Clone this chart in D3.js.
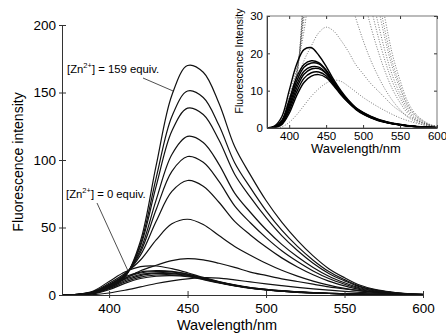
<!DOCTYPE html>
<html>
<head>
<meta charset="utf-8">
<script src="https://cdn.jsdelivr.net/npm/d3@7"></script>
<style>
  body { margin: 0; background: #fff; }
  svg { font-family: "Liberation Sans", Arial, sans-serif; }
  .axis text { fill: #000; }
  .axis path, .axis line { stroke: #333; }
</style>
</head>
<body>
<svg id="chart" width="446" height="334"></svg>
<script>
// wavelength grid (nm)
const wavelengths = [370, 380, 390, 400, 410, 420, 430, 440, 450, 460, 470, 480,
                     490, 500, 510, 520, 530, 540, 550, 560, 570, 580, 590, 600];

// low [Zn2+] spectra (solid in the inset), first one is 0 equiv.
const zn0   = [0, 0.5, 3, 10, 17, 21, 21.5, 19.5, 16.5, 13, 10, 7.5, 5.5, 4.2, 3.2, 2.4, 1.8, 1.3, 1, 0.7, 0.5, 0.3, 0.2, 0.1];
const lowA  = [0, 0.3, 2, 7.5, 13.5, 17, 18, 17.5, 15.5, 12.5, 9.7, 7.3, 5.4, 4.1, 3.1, 2.3, 1.7, 1.2, 0.9, 0.6, 0.4, 0.3, 0.2, 0.1];
const lowB  = [0, 0.3, 1.8, 6.8, 12.5, 16.3, 17.4, 17.2, 15.4, 12.4, 9.6, 7.2, 5.3, 4, 3, 2.2, 1.6, 1.2, 0.9, 0.6, 0.4, 0.3, 0.2, 0.1];
const lowC  = [0, 0.2, 1.5, 6, 11.5, 15.2, 16.4, 16.3, 14.8, 12.1, 9.4, 7.1, 5.2, 3.9, 2.9, 2.2, 1.6, 1.2, 0.9, 0.6, 0.4, 0.3, 0.2, 0.1];
const lowD  = [0, 0.2, 1.3, 5.3, 10.6, 14.4, 15.8, 15.9, 14.6, 12, 9.3, 7, 5.2, 3.9, 2.9, 2.1, 1.6, 1.1, 0.8, 0.6, 0.4, 0.3, 0.2, 0.1];
const lowE  = [0, 0.2, 1.1, 4.6, 9.6, 13.3, 14.8, 15, 14, 11.7, 9.1, 6.9, 5.1, 3.8, 2.8, 2.1, 1.5, 1.1, 0.8, 0.6, 0.4, 0.3, 0.2, 0.1];
const lowF  = [0, 0.1, 0.9, 3.9, 8.6, 12.2, 13.9, 14.3, 13.5, 11.4, 8.9, 6.8, 5, 3.7, 2.8, 2, 1.5, 1.1, 0.8, 0.6, 0.4, 0.3, 0.2, 0.1];

// higher [Zn2+] spectra (dotted in the inset), last one is 159 equiv.
const high13  = [0, 0, 0.3, 1.5, 3.5, 6, 8.5, 10.5, 12, 12.8, 12.5, 11.2, 9.7, 8.2, 6.9, 5.7, 4.6, 3.6, 2.7, 2, 1.4, 0.9, 0.5, 0.3];
const high27  = [0, 0.3, 2, 6, 12, 18, 22, 25.5, 27, 26, 23.5, 20.5, 17, 14.5, 12, 10, 8, 6, 4.5, 3.2, 2.2, 1.4, 0.8, 0.4];
const high56  = [0, 0.5, 2.6, 8.7, 16, 25.9, 40.8, 52.7, 56.1, 52.2, 44, 36, 29.5, 23.5, 18.3, 14, 10.3, 7.3, 4.9, 3, 1.8, 1, 0.5, 0.2];
const high85  = [0, 0.4, 2.3, 7.8, 15.2, 29.5, 54.6, 76.7, 84.8, 80.6, 68.7, 54.5, 44.5, 35.5, 27.5, 20.8, 15, 10.3, 6.8, 4, 2.3, 1.3, 0.6, 0.2];
const high103 = [0, 0.4, 2.2, 7.2, 14.8, 31.7, 63.3, 91.6, 102.6, 98.3, 84.1, 66, 53.5, 42.5, 32.8, 24.8, 17.8, 12.2, 8, 4.6, 2.6, 1.4, 0.7, 0.3];
const high118 = [0, 0.4, 2, 6.7, 14.4, 33.5, 70.5, 104.1, 117.5, 113, 96.8, 75.5, 61.3, 48.5, 37.5, 28.3, 20.4, 13.9, 9.1, 5.2, 2.9, 1.6, 0.8, 0.3];
const high139 = [0, 0.3, 1.8, 6, 13.8, 36.1, 80.6, 121.5, 138.4, 133.7, 114.8, 89.5, 72.5, 57.3, 44, 33, 23.6, 16, 10.5, 5.9, 3.4, 1.8, 0.8, 0.3];
const high152 = [0, 0.3, 1.7, 5.6, 13.5, 37.7, 86.8, 132.2, 151.1, 146.3, 125.7, 98, 79.5, 62.5, 48, 36, 25.8, 17.4, 11.4, 6.4, 3.6, 2, 0.9, 0.4];
const high159 = [0, 0.3, 1.5, 5, 13, 40, 96, 148, 170, 165, 142, 110, 89, 70, 54, 40.5, 29, 19.5, 12.8, 7.2, 4, 2.2, 1, 0.4];

const lowSeries  = [zn0, lowA, lowB, lowC, lowD, lowE, lowF];
const highSeries = [high13, high27, high56, high85, high103, high118, high139, high152, high159];

// tick values
const mainXTicks  = [400, 450, 500, 550, 600];
const mainYTicks  = [0, 50, 100, 150, 200];
const insetXTicks = [400, 450, 500, 550, 600];
const insetYTicks = [0, 10, 20, 30];

class SpectraChart {

    /**
     * @param {Object} _config  position, size and styling of this panel
     * @param {Array} _data     list of {values, stroke, width, dash}
     */
    constructor(_config, _data) {
        this.config = {
            svg: _config.svg,
            left: _config.left,
            top: _config.top,
            width: _config.width,
            height: _config.height,
            xDomain: _config.xDomain,
            yDomain: _config.yDomain,
            xTicks: _config.xTicks,
            yTicks: _config.yTicks,
            fontSize: _config.fontSize || 13,
            boxed: _config.boxed || false,
            id: _config.id
        };
        this.data = _data;
        this.initVis();
    }

    initVis() {
        let vis = this;
        const c = vis.config;

        vis.xScale = d3.scaleLinear().domain(c.xDomain).range([0, c.width]);
        vis.yScale = d3.scaleLinear().domain(c.yDomain).range([c.height, 0]);

        vis.chart = c.svg.append('g')
            .attr('transform', `translate(${c.left},${c.top})`);

        vis.chart.append('clipPath')
            .attr('id', 'clip-' + c.id)
          .append('rect')
            .attr('width', c.width)
            .attr('height', c.height);

        vis.renderVis();
    }

    renderVis() {
        let vis = this;
        const c = vis.config;

        const line = d3.line()
            .x((d, i) => vis.xScale(wavelengths[i]))
            .y(d => vis.yScale(d))
            .curve(d3.curveCatmullRom.alpha(0.5));

        vis.chart.append('g')
            .attr('clip-path', `url(#clip-${c.id})`)
          .selectAll('.spectrum')
            .data(vis.data)
          .join('path')
            .attr('class', 'spectrum')
            .attr('fill', 'none')
            .attr('stroke', d => d.stroke)
            .attr('stroke-width', d => d.width)
            .attr('stroke-dasharray', d => d.dash || null)
            .attr('d', d => line(d.values));

        // labelled axes
        const xAxis = d3.axisBottom(vis.xScale).tickValues(c.xTicks)
            .tickSizeInner(c.boxed ? -3 : 3).tickSizeOuter(0).tickPadding(c.boxed ? 4 : 5);
        const yAxis = d3.axisLeft(vis.yScale).tickValues(c.yTicks)
            .tickSizeInner(c.boxed ? -3 : 3).tickSizeOuter(0).tickPadding(c.boxed ? 4 : 3);

        const xg = vis.chart.append('g')
            .attr('class', 'axis')
            .attr('transform', `translate(0,${c.height})`)
            .call(xAxis);
        const yg = vis.chart.append('g')
            .attr('class', 'axis')
            .call(yAxis);

        [xg, yg].forEach(g => g.selectAll('text')
            .style('font-size', c.fontSize + 'px')
            .style('font-family', '"Liberation Sans", Arial, sans-serif'));

        if (c.boxed) {
            // box with inward ticks on top and right
            vis.chart.append('g')
                .attr('class', 'axis')
                .call(d3.axisTop(vis.xScale).tickValues(c.xTicks).tickSize(-3).tickFormat(''))
                .call(g => g.select('.domain').remove());
            vis.chart.append('g')
                .attr('class', 'axis')
                .attr('transform', `translate(${c.width},0)`)
                .call(d3.axisRight(vis.yScale).tickValues(c.yTicks).tickSize(-3).tickFormat(''))
                .call(g => g.select('.domain').remove());
            vis.chart.append('rect')
                .attr('width', c.width)
                .attr('height', c.height)
                .attr('fill', 'none')
                .attr('stroke', '#555')
                .attr('stroke-width', 0.8);
        } else {
            // short inward ticks too
            vis.chart.append('g')
                .attr('class', 'axis')
                .attr('transform', `translate(0,${c.height})`)
                .call(d3.axisBottom(vis.xScale).tickValues(c.xTicks).tickSize(-4).tickFormat(''))
                .call(g => g.select('.domain').remove());
            vis.chart.append('g')
                .attr('class', 'axis')
                .call(d3.axisLeft(vis.yScale).tickValues(c.yTicks).tickSize(-4).tickFormat(''))
                .call(g => g.select('.domain').remove());
        }
    }
}

const svg = d3.select('#chart');

// main panel: every spectrum drawn as a plain black line
const mainData = lowSeries.concat(highSeries).map(v => ({values: v, stroke: '#111', width: 1.2}));

const mainChart = new SpectraChart({
    svg: svg, id: 'main',
    left: 62, top: 25, width: 361, height: 270,
    xDomain: [370, 600], yDomain: [0, 200],
    xTicks: mainXTicks, yTicks: mainYTicks,
    fontSize: 13.5
}, mainData);

svg.append('text')
    .attr('x', 227).attr('y', 330)
    .attr('text-anchor', 'middle')
    .style('font-size', '14.5px')
    .text('Wavelength/nm');

svg.append('text')
    .attr('transform', 'translate(23,162) rotate(-90)')
    .attr('text-anchor', 'middle')
    .style('font-size', '14px')
    .text('Fluorescence intensity');

// annotations
function zincLabel(x, y, equiv) {
    const t = svg.append('text')
        .attr('x', x).attr('y', y)
        .style('font-size', '11.3px');
    t.append('tspan').text('[Zn');
    t.append('tspan').attr('dy', -5).style('font-size', '7.5px').text('2+');
    t.append('tspan').attr('dy', 5).text(`] = ${equiv} equiv.`);
}
zincLabel(67, 73, 159);
zincLabel(66, 198, 0);

svg.append('line')
    .attr('x1', 143).attr('y1', 78)
    .attr('x2', mainChart.xScale(441) + 62).attr('y2', mainChart.yScale(151) + 25)
    .attr('stroke', '#222').attr('stroke-width', 0.8);
svg.append('line')
    .attr('x1', 97).attr('y1', 203)
    .attr('x2', mainChart.xScale(412) + 62).attr('y2', mainChart.yScale(18) + 25)
    .attr('stroke', '#222').attr('stroke-width', 0.8);

// inset: low [Zn] solid, high [Zn] dotted
const insetData = highSeries.map(v => ({values: v, stroke: '#555', width: 0.8, dash: '1,1.6'}))
    .concat(lowSeries.map(v => ({values: v, stroke: '#000', width: 1.4})));

new SpectraChart({
    svg: svg, id: 'inset',
    left: 267, top: 16, width: 170, height: 112,
    xDomain: [370, 600], yDomain: [0, 30],
    xTicks: insetXTicks, yTicks: insetYTicks,
    fontSize: 11.5, boxed: true
}, insetData);

svg.append('text')
    .attr('x', 356).attr('y', 153)
    .attr('text-anchor', 'middle')
    .style('font-size', '13px')
    .text('Wavelength/nm');

svg.append('text')
    .attr('transform', 'translate(243,61) rotate(-90)')
    .attr('text-anchor', 'middle')
    .style('font-size', '10.5px')
    .text('Fluorescence Intensity');
</script>
</body>
</html>
